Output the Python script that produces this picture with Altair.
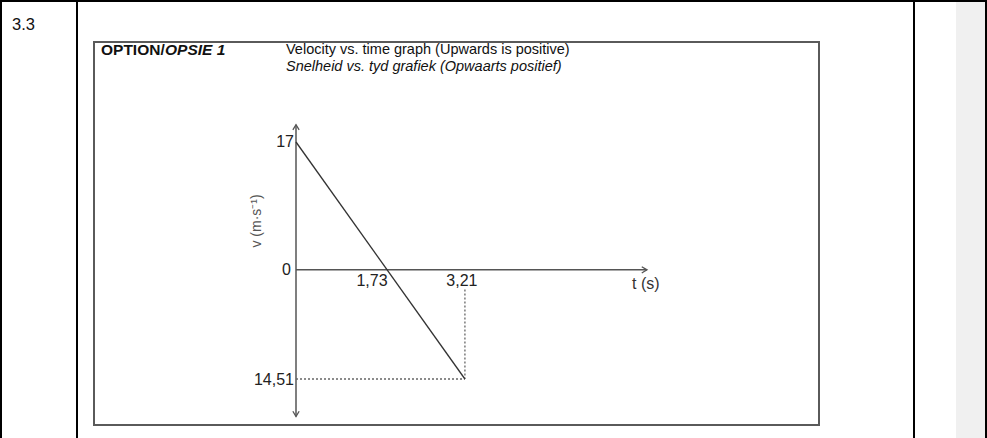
import altair as alt
import pandas as pd

# Motion of the ball: velocity (m/s, upwards positive) against time (s)
times = [0, 3.21]
velocities = [17, -14.51]

# Extent of the drawn axes (with arrowheads at their ends)
t_axis_end = 6.67
v_axis_top = 19.3
v_axis_bottom = -19.5

# Dotted guide lines to the final point
guide_v_start = -2.6

# Tick labels written next to the axes
tick_texts = ["17", "0", "14,51", "1,73", "3,21"]
tick_t = [0, 0, 0, 1.73, 3.21]
tick_v = [17, 0, -14.51, 0, 0]
tick_align = ["right", "right", "right", "center", "center"]
tick_dx = [-2, -5, -2, -15, -3]
tick_dy = [0, 0, 1, 11, 11]

FONT = "Liberation Sans"
W, H = 987, 438

x_scale = alt.Scale(domain=[0, t_axis_end], range=[296, 647])
y_scale = alt.Scale(domain=[-14.51, 17], range=[379, 142])


def X(field="t"):
    return alt.X(f"{field}:Q", scale=x_scale, axis=None)


def Y(field="v"):
    return alt.Y(f"{field}:Q", scale=y_scale, axis=None)


one = pd.DataFrame({"k": [0]})

# ---- page frame (table cells and the boxed option) ----
grey_col = alt.Chart(one).mark_rect(color="#f0f0f0").encode(
    x=alt.value(956), x2=alt.value(985), y=alt.value(2), y2=alt.value(H)
)
frame_rules = []
for xv in [1, 77, 914, 986]:
    frame_rules.append(
        alt.Chart(one).mark_rule(color="#000", strokeWidth=2).encode(
            x=alt.value(xv), y=alt.value(0), y2=alt.value(H)
        )
    )
top_rule = alt.Chart(one).mark_rule(color="#000", strokeWidth=2).encode(
    x=alt.value(0), x2=alt.value(W), y=alt.value(1)
)
box = alt.Chart(one).mark_rect(fillOpacity=0, stroke="#5a5a5a", strokeWidth=2).encode(
    x=alt.value(94), x2=alt.value(819), y=alt.value(42), y2=alt.value(425)
)

# ---- header texts ----
def label(txt, x, y, size=14.5, weight="normal", style="normal", color="#111"):
    return alt.Chart(one).mark_text(
        text=txt, font=FONT, fontSize=size, fontWeight=weight, fontStyle=style,
        align="left", baseline="middle", color=color,
    ).encode(x=alt.value(x), y=alt.value(y))


header = [
    label("3.3", 12, 25, size=16.5),
    label("OPTION/", 101, 50, size=15.5, weight="bold"),
    label("OPSIE 1", 165, 50, size=15.5, weight="bold", style="italic"),
    label("Velocity vs. time graph (Upwards is positive)", 286, 50),
    label("Snelheid vs. tyd grafiek (Opwaarts positief)", 286, 67, style="italic"),
]

# ---- axes with arrowheads ----
x_axis_df = pd.DataFrame({"t": [0, t_axis_end], "v": [0, 0]})
y_axis_df = pd.DataFrame({"t": [0, 0], "v": [v_axis_bottom, v_axis_top]})
x_axis = alt.Chart(x_axis_df).mark_line(color="#555", strokeWidth=1.5).encode(x=X(), y=Y())
y_axis = alt.Chart(y_axis_df).mark_line(color="#555", strokeWidth=1.5).encode(x=X(), y=Y())

arrow_df = pd.DataFrame({
    "t": [0, 0, t_axis_end],
    "v": [v_axis_top, v_axis_bottom, 0],
    "ang": [0, 180, 90],
})
arrows = alt.Chart(arrow_df).mark_point(
    shape="M -0.6 1 L 0 0 L 0.6 1", filled=False, color="#555", strokeWidth=1.3, size=110,
    opacity=1,
).encode(x=X(), y=Y(), angle=alt.Angle("ang:Q", scale=None))

# ---- velocity line ----
vt_df = pd.DataFrame({"t": times, "v": velocities})
vt_line = alt.Chart(vt_df).mark_line(color="#333", strokeWidth=1.3).encode(x=X(), y=Y())

# ---- dotted guides to the end point ----
g1 = pd.DataFrame({"t": [times[1], times[1]], "v": [guide_v_start, velocities[1]]})
g2 = pd.DataFrame({"t": [0, times[1]], "v": [velocities[1], velocities[1]]})
guide_v = alt.Chart(g1).mark_line(color="#666", strokeWidth=1.3, strokeDash=[2, 2]).encode(x=X(), y=Y())
guide_h = alt.Chart(g2).mark_line(color="#666", strokeWidth=1.3, strokeDash=[2, 2]).encode(x=X(), y=Y())

# ---- tick labels ----
tick_layers = []
for txt, tt, vv, al, dx, dy in zip(tick_texts, tick_t, tick_v, tick_align, tick_dx, tick_dy):
    tick_layers.append(
        alt.Chart(pd.DataFrame({"t": [tt], "v": [vv]})).mark_text(
            text=txt, font=FONT, fontSize=16, align=al, baseline="middle",
            dx=dx, dy=dy, color="#222",
        ).encode(x=X(), y=Y())
    )

t_title = alt.Chart(pd.DataFrame({"t": [t_axis_end], "v": [0]})).mark_text(
    text="t (s)", font=FONT, fontSize=16, align="left", baseline="middle",
    dx=-15, dy=14, color="#333",
).encode(x=X(), y=Y())

v_title = alt.Chart(pd.DataFrame({"t": [0], "v": [6.5]})).mark_text(
    text="v (m·s⁻¹)", font=FONT, fontSize=14, align="center", baseline="middle",
    angle=270, dx=0, dy=-39, color="#555",
).encode(x=X(), y=Y())

chart = alt.layer(
    grey_col, *frame_rules, top_rule, box, *header,
    x_axis, y_axis, arrows, guide_v, guide_h, vt_line,
    *tick_layers, t_title, v_title,
).properties(
    width=W, height=H, autosize="none", padding=0
).configure_view(stroke=None).configure(background="white")

chart.save("out.html", embed_options={"renderer": "svg", "actions": False})
